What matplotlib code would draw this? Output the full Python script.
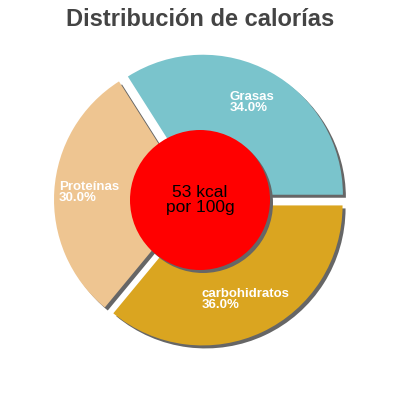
import matplotlib
matplotlib.use("Agg")
from matplotlib import pyplot as plt
from matplotlib.patches import Circle, Shadow

labels = ["Grasas", "Proteínas", "carbohidratos"]
shares = [34.0, 30.0, 36.0]
colors = ["#7AC4CC", "#EEC591", "#DAA520"]
kcal_text = "53 kcal\npor 100g"
title = "Distribución de calorías"

# label anchor points in pixels (x, y from top)
label_pos = [(230, 91), (59, 181), (202, 288)]

shadow_col = "#666666"
px = 72 / 100  # shadow offsets are scaled by dpi/72

fig = plt.figure(figsize=(4, 4), dpi=100)
ax = fig.add_axes([0, 0, 1, 1])
ax.set_xlim(0, 400)
ax.set_ylim(0, 400)
ax.set_aspect("equal")
ax.axis("off")

ax.pie(shares, colors=colors, startangle=0, counterclock=True,
       center=(200, 200), radius=140, explode=[6, 6, 6],
       wedgeprops=dict(linewidth=0),
       shadow={"ox": 3 * px, "oy": -3 * px, "facecolor": shadow_col,
               "edgecolor": "none", "alpha": 1})
ax.set_xlim(0, 400)
ax.set_ylim(0, 400)

for lab, val, (x, y) in zip(labels, shares, label_pos):
    ax.text(x, 400 - y, "{}\n{:.1f}%".format(lab, val), color="white",
            fontsize=9.5, fontweight="bold", family="Liberation Sans",
            ha="left", va="top", linespacing=0.88)

center = Circle((200, 200), 70, facecolor="#FF0000", edgecolor="none", zorder=5)
ax.add_patch(center)
sh = Shadow(center, 3 * px, -3 * px, facecolor=shadow_col, edgecolor="none", alpha=1)
sh.set_zorder(4.5)
ax.add_patch(sh)
ax.text(200, 200, kcal_text, ha="center", va="center", fontsize=12.5,
        family="Liberation Sans", color="black", zorder=6, linespacing=1.0)

fig.text(0.5, 0.952, title, ha="center", va="center", fontsize=17,
         fontweight="bold", color="#444444", family="Liberation Sans")

fig.savefig("out.png", dpi=100, facecolor="white")
